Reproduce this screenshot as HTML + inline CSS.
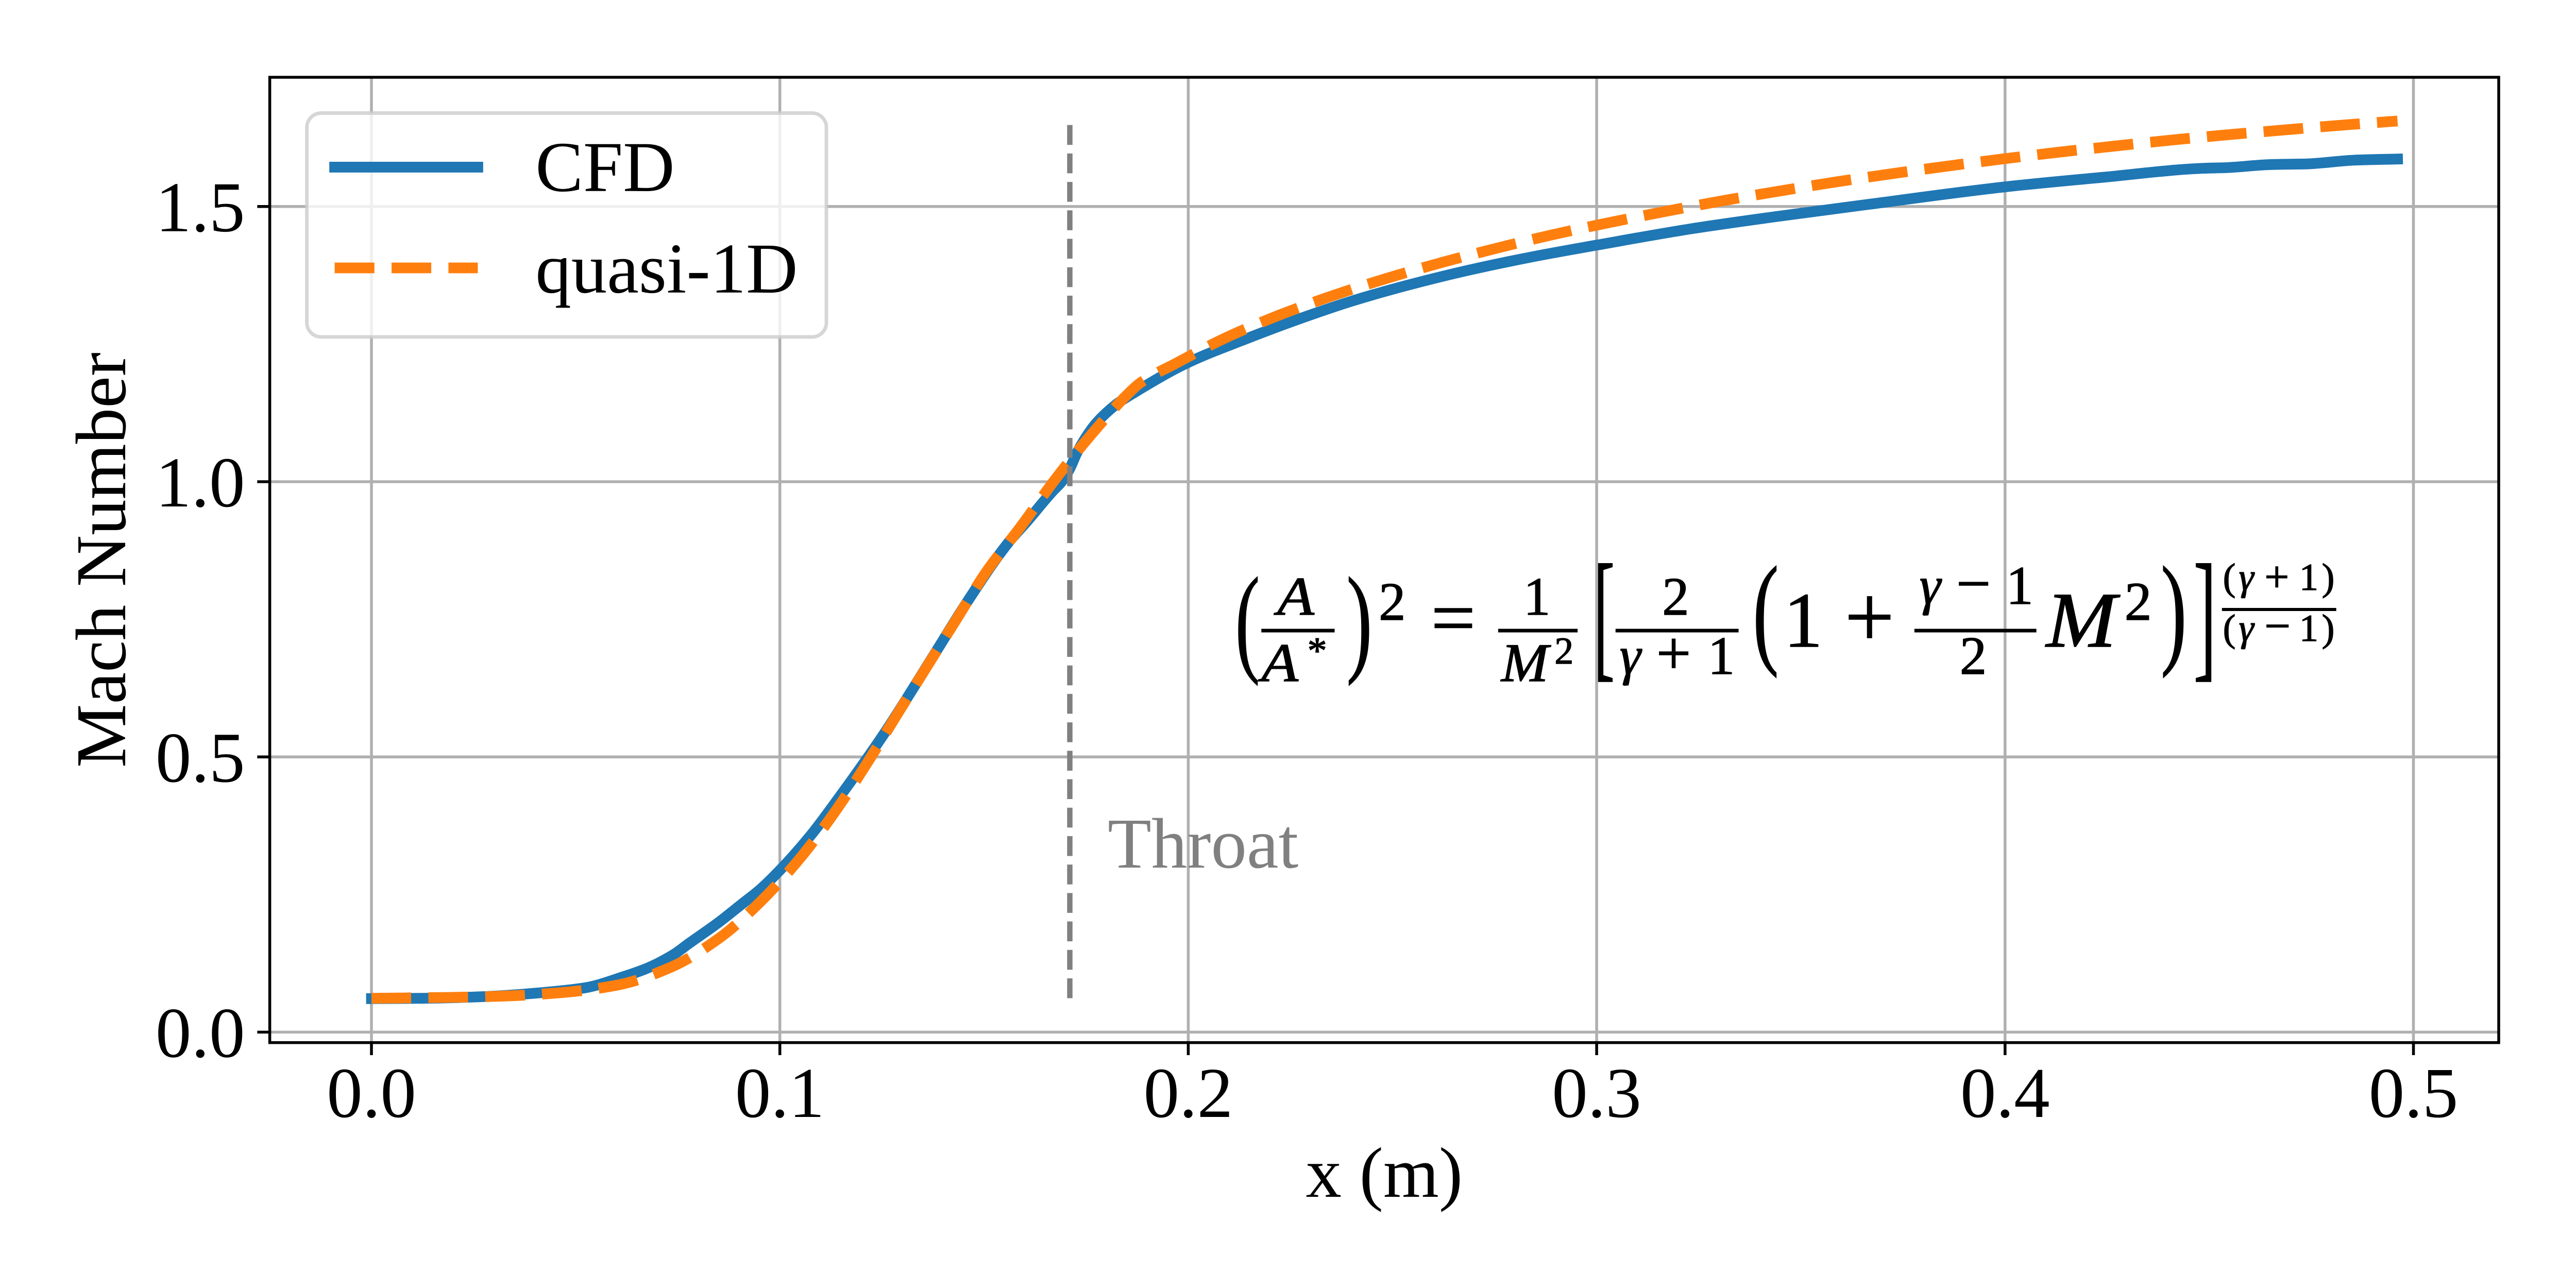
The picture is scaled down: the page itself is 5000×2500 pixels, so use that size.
<!DOCTYPE html>
<html lang="en">
<head>
<meta charset="utf-8">
<title>Mach Number vs x: CFD and quasi-1D</title>
<style>
html,body{margin:0;padding:0;background:#fff;width:5000px;height:2500px;overflow:hidden}
svg{display:block}
text{font-family:"Liberation Serif","Times New Roman",serif;fill:#000;text-rendering:geometricPrecision;font-kerning:normal}
.i{font-style:italic}
.eq text{stroke:#000;stroke-width:1.5px}
</style>
</head>
<body>
<svg id="chart" xmlns="http://www.w3.org/2000/svg" width="5000" height="2500" viewBox="0 0 5000 2500">
  <rect x="0" y="0" width="5000" height="2500" fill="#ffffff"/>
  <g id="grid-layer"></g>
  <g id="series-layer"></g>

  <text x="2150" y="1684" font-size="138.9" style="fill:#808080">Throat</text>

  <g class="eq" transform="translate(2300,0) scale(0.99495,1) translate(-2300,0)">
    <text transform="translate(2398,1281) scale(0.62,1)" font-size="233">(</text>
    <text class="i" x="2480" y="1193" font-size="106" textLength="72" lengthAdjust="spacingAndGlyphs">A</text>
    <rect x="2449" y="1220.5" width="143" height="7" fill="#000"/>
    <text class="i" x="2449" y="1322" font-size="106" textLength="72" lengthAdjust="spacingAndGlyphs">A</text>
    <text x="2539" y="1287" font-size="73" textLength="38" lengthAdjust="spacingAndGlyphs">*</text>
    <text transform="translate(2615,1281) scale(0.65,1)" font-size="233">)</text>
    <text x="2678" y="1203" font-size="105">2</text>
    <text x="2780" y="1249.5" font-size="150" textLength="87" lengthAdjust="spacingAndGlyphs">=</text>
    <text x="2960.5" y="1193" font-size="105">1</text>
    <rect x="2911" y="1220.5" width="155" height="7" fill="#000"/>
    <text class="i" x="2917" y="1322" font-size="106" textLength="92" lengthAdjust="spacingAndGlyphs">M</text>
    <text x="3021" y="1288" font-size="74">2</text>
    <text transform="translate(3097,1286) scale(0.45,1)" font-size="277">[</text>
    <text x="3231" y="1193" font-size="105">2</text>
    <rect x="3140" y="1220.5" width="240" height="7" fill="#000"/>
    <text class="i" x="3148" y="1308" font-size="105">γ</text>
    <text x="3219.5" y="1308" font-size="120">+</text>
    <text x="3320" y="1308" font-size="105">1</text>
    <text transform="translate(3407.7,1264.5) scale(0.635,1)" font-size="240">(</text>
    <text x="3468" y="1255" font-size="152">1</text>
    <text x="3587" y="1255" font-size="172">+</text>
    <text class="i" x="3733" y="1172" font-size="105">γ</text>
    <text x="3804.5" y="1173" font-size="120">−</text>
    <text x="3902" y="1172" font-size="106">1</text>
    <rect x="3723" y="1220.5" width="238" height="7" fill="#000"/>
    <text x="3811.5" y="1308" font-size="105">2</text>
    <text class="i" x="3980" y="1255" font-size="153" textLength="137" lengthAdjust="spacingAndGlyphs">M</text>
    <text x="4133" y="1203" font-size="106">2</text>
    <text transform="translate(4203.6,1264.5) scale(0.635,1)" font-size="240">)</text>
    <text transform="translate(4267.5,1286) scale(0.48,1)" font-size="277">]</text>
    <text x="4325" y="1145" font-size="74">(</text>
    <text class="i" x="4356" y="1145" font-size="74">γ</text>
    <text x="4406" y="1148" font-size="85">+</text>
    <text x="4474" y="1145" font-size="74">1</text>
    <text x="4518" y="1145" font-size="74">)</text>
    <rect x="4323" y="1180" width="223" height="6" fill="#000"/>
    <text x="4325" y="1244" font-size="74">(</text>
    <text class="i" x="4356" y="1244" font-size="74">γ</text>
    <text x="4406" y="1245" font-size="90">−</text>
    <text x="4474" y="1244" font-size="74">1</text>
    <text x="4518" y="1244" font-size="74">)</text>
  </g>

  <g>
    <rect x="595.6" y="219.5" width="1008.4" height="434.5" rx="27.8" ry="27.8" fill="#ffffff" fill-opacity="0.8" stroke="#cccccc" stroke-opacity="0.8" stroke-width="6.9"/>
    <line x1="649.6" y1="324.4" x2="927.4" y2="324.4" stroke="#1f77b4" stroke-width="20.83" stroke-linecap="square"/>
    <text x="1039.3" y="370.7" font-size="138.9">CFD</text>
    <line x1="649.6" y1="520" x2="927.4" y2="520" stroke="#ff7f0e" stroke-width="20.83" stroke-dasharray="77.08 33.33"/>
    <text x="1039.3" y="567.8" font-size="138.9">quasi-1D</text>
  </g>

  <g id="axis-layer"></g>

  <text x="2686.8" y="2323" font-size="138.9" text-anchor="middle">x (m)</text>
  <text transform="translate(243,1087) rotate(-90)" font-size="138.9" text-anchor="middle">Mach Number</text>
</svg>

<script>
var xTicks = [0, 0.1, 0.2, 0.3, 0.4, 0.5];
var xTickLabels = ["0.0", "0.1", "0.2", "0.3", "0.4", "0.5"];
var yTicks = [0, 0.5, 1.0, 1.5];
var yTickLabels = ["0.0", "0.5", "1.0", "1.5"];

var cfdX = [0, 0.0127, 0.0281, 0.0427, 0.0523, 0.0620, 0.0675, 0.0738, 0.0780, 0.0848, 0.0907, 0.0950, 0.1010, 0.1077, 0.1145, 0.1254, 0.1384, 0.1458, 0.1559, 0.1606, 0.1667, 0.1690, 0.1710, 0.1727, 0.1745, 0.1775, 0.1827, 0.1868, 0.2000, 0.2139, 0.2276, 0.2399, 0.2536, 0.2686, 0.2851, 0.3000, 0.3233, 0.3439, 0.3671, 0.4010, 0.4238, 0.4486, 0.4539, 0.4654, 0.4733, 0.4858, 0.4961];
var cfdY = [0.0609, 0.0615, 0.0647, 0.0725, 0.0806, 0.1015, 0.1161, 0.1401, 0.1625, 0.1982, 0.2328, 0.2581, 0.3020, 0.3589, 0.4262, 0.5408, 0.6933, 0.7810, 0.8889, 0.9286, 0.9820, 1.0000, 1.0240, 1.0520, 1.0755, 1.1067, 1.1423, 1.1620, 1.2167, 1.2588, 1.2969, 1.3278, 1.3568, 1.3842, 1.4098, 1.4298, 1.4597, 1.4816, 1.5044, 1.5365, 1.5529, 1.5694, 1.5705, 1.5763, 1.5772, 1.5843, 1.5862];

var quasiX = [0, 0.0187, 0.0327, 0.0465, 0.0605, 0.0735, 0.0853, 0.0957, 0.1050, 0.1135, 0.1211, 0.1284, 0.1358, 0.1431, 0.1506, 0.1590, 0.1672, 0.1759, 0.1852, 0.1882, 0.1969, 0.2092, 0.2220, 0.2350, 0.2484, 0.2618, 0.2752, 0.2887, 0.3024, 0.3161, 0.3298, 0.3435, 0.3573, 0.3711, 0.3846, 0.3986, 0.4125, 0.4263, 0.4401, 0.4539, 0.4680, 0.4818, 0.4961];
var quasiY = [0.0615, 0.0631, 0.0656, 0.0718, 0.0859, 0.1186, 0.1716, 0.2403, 0.3165, 0.4004, 0.4858, 0.5735, 0.6618, 0.7484, 0.8368, 0.9186, 1.0021, 1.0826, 1.1592, 1.1793, 1.2148, 1.2616, 1.3019, 1.3371, 1.3690, 1.3977, 1.4236, 1.4479, 1.4697, 1.4900, 1.5090, 1.5265, 1.5431, 1.5583, 1.5721, 1.5856, 1.5981, 1.6093, 1.6202, 1.6299, 1.6388, 1.6474, 1.6553];

var throatX = [0.171];
var throatY = [1.648, 0.055];

var NS = "http://www.w3.org/2000/svg";
var plotLeft = 523.6, plotRight = 4850, plotTop = 150, plotBottom = 2023.7;
function xScale(v) { return 721 + v * 7927; }
function yScale(v) { return 2003.4 - v * 1068.4; }

function make(tag, parent, attrs) {
  var el = document.createElementNS(NS, tag);
  for (var k in attrs) { el.setAttribute(k, attrs[k]); }
  parent.appendChild(el);
  return el;
}

/* Monotone cubic (Fritsch-Carlson style) path through the data points */
function smoothPath(xs, ys) {
  var px = xs.map(xScale), py = ys.map(yScale), n = px.length, s = [], m = [], i;
  for (i = 0; i < n - 1; i++) { s.push((py[i + 1] - py[i]) / (px[i + 1] - px[i])); }
  m.push(s[0]);
  for (i = 1; i < n - 1; i++) {
    if (s[i - 1] * s[i] <= 0) { m.push(0); continue; }
    var h0 = px[i] - px[i - 1], h1 = px[i + 1] - px[i];
    var w1 = 2 * h1 + h0, w2 = h1 + 2 * h0;
    m.push((w1 + w2) / (w1 / s[i - 1] + w2 / s[i]));
  }
  m.push(s[n - 2]);
  var d = "M" + px[0].toFixed(2) + " " + py[0].toFixed(2);
  for (i = 0; i < n - 1; i++) {
    var h = (px[i + 1] - px[i]) / 3;
    d += "C" + (px[i] + h).toFixed(2) + " " + (py[i] + m[i] * h).toFixed(2) + " " +
         (px[i + 1] - h).toFixed(2) + " " + (py[i + 1] - m[i + 1] * h).toFixed(2) + " " +
         px[i + 1].toFixed(2) + " " + py[i + 1].toFixed(2);
  }
  return d;
}

var gridLayer = document.getElementById("grid-layer");
var seriesLayer = document.getElementById("series-layer");
var axisLayer = document.getElementById("axis-layer");

xTicks.forEach(function (t, idx) {
  var line = make("line", gridLayer, {x1: xScale(t), x2: xScale(t), y1: plotTop, y2: plotBottom, stroke: "#b0b0b0", "stroke-width": 5.55});
  
  
  var tick = make("line", axisLayer, {x1: xScale(t), x2: xScale(t), y1: plotBottom, y2: plotBottom + 24.3, stroke: "#000", "stroke-width": 5.55});
  
  
  var label = make("text", axisLayer, {x: xScale(t), y: 2168, "font-size": 138.9, "text-anchor": "middle"});
  
  
  label.textContent = xTickLabels[idx];
});

yTicks.forEach(function (t, idx) {
  var line = make("line", gridLayer, {x1: plotLeft, x2: plotRight, y1: yScale(t), y2: yScale(t), stroke: "#b0b0b0", "stroke-width": 5.55});
  
  
  var tick = make("line", axisLayer, {x1: plotLeft - 24.3, x2: plotLeft, y1: yScale(t), y2: yScale(t), stroke: "#000", "stroke-width": 5.55});
  
  
  var label = make("text", axisLayer, {x: 475.5, y: yScale(t) + 48, "font-size": 138.9, "text-anchor": "end"});
  
  
  label.textContent = yTickLabels[idx];
});

var cfdLine = make("path", seriesLayer, {d: smoothPath(cfdX, cfdY), fill: "none", stroke: "#1f77b4", "stroke-width": 20.83, "stroke-linecap": "square", "stroke-linejoin": "round"});



var quasiLine = make("path", seriesLayer, {d: smoothPath(quasiX, quasiY), fill: "none", stroke: "#ff7f0e", "stroke-width": 20.83, "stroke-dasharray": "77.08 33.33", "stroke-linejoin": "round"});



var throatLine = make("line", seriesLayer, {x1: xScale(throatX[0]), x2: xScale(throatX[0]), y1: yScale(throatY[0]), y2: yScale(throatY[1]), stroke: "#808080", "stroke-width": 10.42, "stroke-dasharray": "38.54 16.67"});



var spines = make("rect", axisLayer, {x: plotLeft, y: plotTop, width: plotRight - plotLeft, height: plotBottom - plotTop, fill: "none", stroke: "#000", "stroke-width": 5.55, "stroke-linejoin": "miter"});


</script>
</body>
</html>
